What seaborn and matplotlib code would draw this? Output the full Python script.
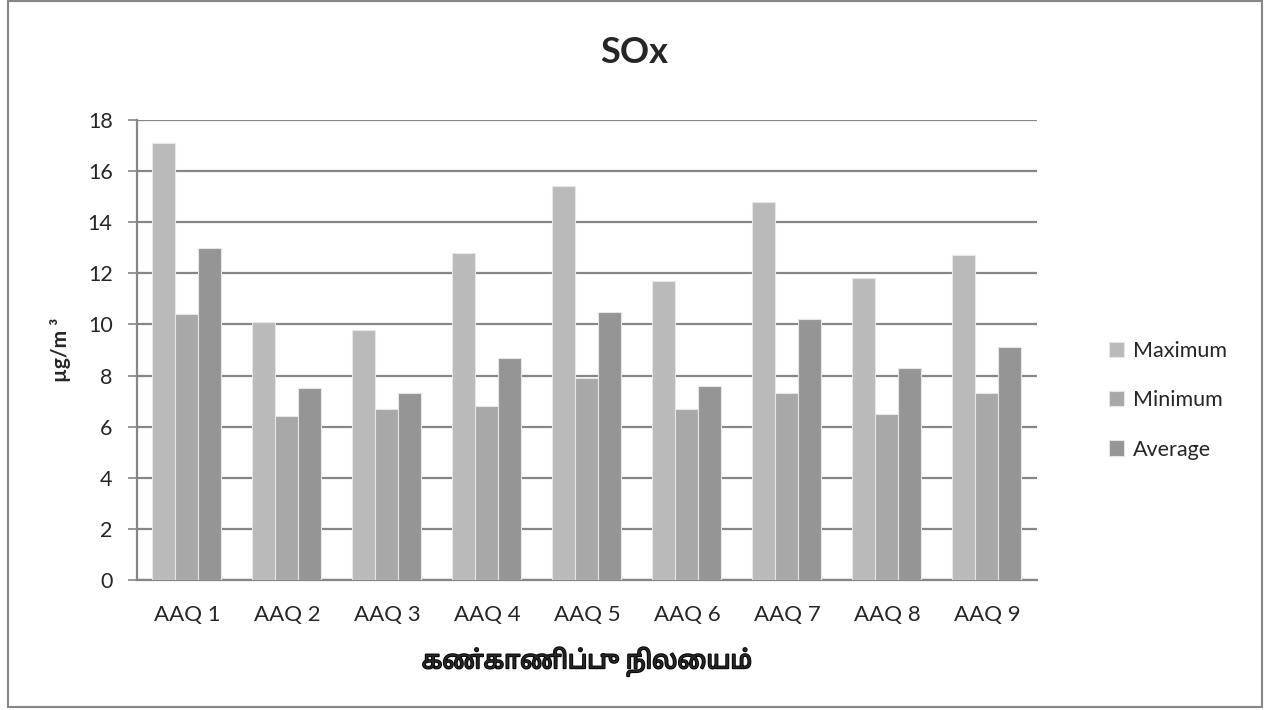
import matplotlib
matplotlib.use("Agg")
import matplotlib.pyplot as plt
import matplotlib.patheffects as pe
from matplotlib.patches import Rectangle
import seaborn as sns
import pandas as pd

# Monitoring stations and SOx concentrations (µg/m³)
stations = ["AAQ 1", "AAQ 2", "AAQ 3", "AAQ 4", "AAQ 5", "AAQ 6", "AAQ 7", "AAQ 8", "AAQ 9"]
maximum = [17.1, 10.1, 9.8, 12.8, 15.4, 11.7, 14.8, 11.8, 12.7]
minimum = [10.4, 6.4, 6.7, 6.8, 7.9, 6.7, 7.3, 6.5, 7.3]
average = [13.0, 7.5, 7.3, 8.7, 10.5, 7.6, 10.2, 8.3, 9.1]
series_names = ["Maximum", "Minimum", "Average"]
y_ticks = [0, 2, 4, 6, 8, 10, 12, 14, 16, 18]

title = "SOx"
x_label = "கண்காணிப்பு நிலையம்"
y_label = "µg/m ³"

colors = ["#bababa", "#a8a8a8", "#959595"]

df = pd.DataFrame({
    "station": stations * 3,
    "value": maximum + minimum + average,
    "series": [s for s in series_names for _ in stations],
})

sns.set_style("white")
plt.rcParams["font.family"] = ["Lato", "DejaVu Sans"]
tamil_family = ["Noto Sans Tamil", "Lohit Tamil", "Noto Sans", "Lato", "DejaVu Sans"]

fig = plt.figure(figsize=(12.68, 7.10), dpi=100)
ax = fig.add_axes([0.108, 0.183, 0.7098, 0.648])

sns.barplot(data=df, x="station", y="value", hue="series", order=stations,
            hue_order=series_names, palette=colors, width=0.69, gap=0,
            edgecolor="#e6e6e6", linewidth=0.8, ax=ax, legend=True, zorder=3)

ax.set_xlim(-0.5, len(stations) - 0.5)
ax.set_ylim(0, 18)
ax.set_yticks(y_ticks)
ax.set_yticklabels([str(t) for t in y_ticks], fontsize=15.5)
ax.tick_params(axis="x", labelsize=16, length=0, pad=18)
ax.tick_params(axis="y", length=6.5, width=1.2, color="#868686", direction="out", pad=11, left=True)

ax.yaxis.grid(True, color="#868686", linewidth=1.6, zorder=0)
ax.set_axisbelow(True)
for side in ["top", "right"]:
    ax.spines[side].set_visible(False)
for side in ["left", "bottom"]:
    ax.spines[side].set_color("#868686")
    ax.spines[side].set_linewidth(1.6)

ax.set_xlabel(x_label, fontsize=18, fontweight="bold", family=tamil_family, labelpad=16,
              path_effects=[pe.withStroke(linewidth=1.3, foreground="black")])
ax.set_ylabel(y_label, fontsize=15, fontweight="bold", labelpad=12)
fig.text(0.5, 0.926, title, ha="center", va="center", fontsize=26, fontweight="bold")

handles, labels = ax.get_legend_handles_labels()
ax.get_legend().remove()
fig.legend(handles, labels, loc="center left", bbox_to_anchor=(0.859, 0.436),
           frameon=False, fontsize=15.5, handlelength=0.7, handleheight=0.7,
           handletextpad=0.45, labelspacing=1.35)

# Outer chart border
fig.patches.append(Rectangle((0.0065, 0.004), 0.989, 0.994, transform=fig.transFigure,
                             fill=False, edgecolor="#868686", linewidth=1.5))

fig.savefig("out.png", dpi=100, facecolor="white")
